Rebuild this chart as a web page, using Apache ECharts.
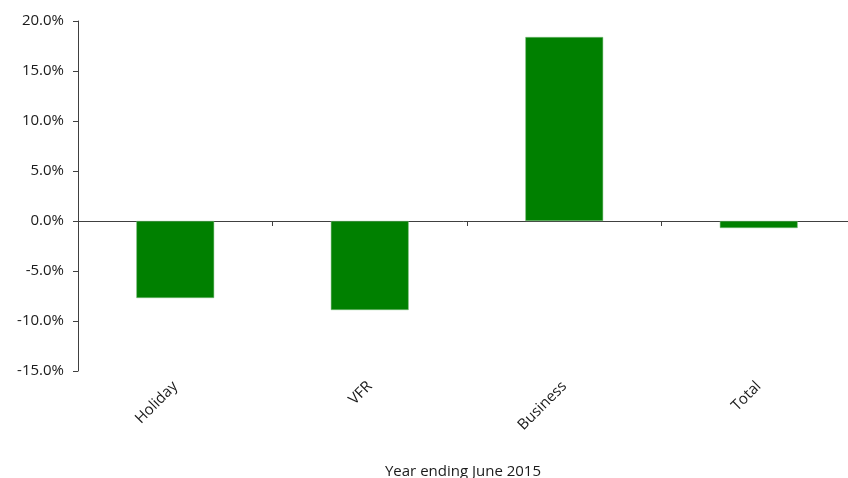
<!DOCTYPE html>
<html>
<head>
<meta charset="utf-8">
<script src="https://cdn.jsdelivr.net/npm/echarts@6/dist/echarts.min.js"></script>
<style>
  html, body { margin: 0; padding: 0; background: #fff; }
  #chart { width: 848px; height: 478px; }
</style>
</head>
<body>
<div id="chart"></div>
<script>
// data
const categories = ["Holiday", "VFR", "Business", "Total"];
const changes = [-7.7, -8.9, 18.4, -0.7];
const yTicks = { min: -15, max: 20, step: 5 };

const font = "Open Sans";
const chart = echarts.init(document.getElementById("chart"));

const option = {
  animation: false,
  textStyle: { fontFamily: font },
  grid: { left: 78, right: -8, top: 21, bottom: 107, containLabel: false, outerBoundsMode: "none" },
  xAxis: [
    {
      // axis line sitting on zero, ticks between categories
      type: "category",
      data: categories,
      axisLine: { onZero: true, lineStyle: { color: "#404040", width: 1 } },
      axisTick: { show: true, inside: false, length: 5, lineStyle: { color: "#404040" } },
      axisLabel: { show: false }
    },
    {
      // labels along the bottom of the plot
      type: "category",
      data: categories,
      position: "bottom",
      axisLine: { show: false, onZero: false },
      axisTick: { show: false },
      axisLabel: {
        rotate: 45,
        margin: 13,
        color: "#1a1a1a",
        fontSize: 15,
        fontFamily: font
      },
      name: "Year ending June 2015",
      nameLocation: "middle",
      nameGap: 93,
      nameTextStyle: { color: "#1a1a1a", fontSize: 15, fontFamily: font, padding: [0, 8, 0, 0] }
    }
  ],
  yAxis: {
    type: "value",
    min: yTicks.min,
    max: yTicks.max,
    interval: yTicks.step,
    axisLine: { show: true, lineStyle: { color: "#404040" } },
    axisTick: { show: true, length: 5, lineStyle: { color: "#404040" } },
    splitLine: { show: false },
    axisLabel: {
      color: "#1a1a1a",
      fontSize: 15,
      fontFamily: font,
      margin: 14,
      formatter: v => v.toFixed(1) + "%"
    }
  },
  series: [
    {
      type: "bar",
      data: changes,
      xAxisIndex: 0,
      barWidth: "40%",
      itemStyle: { color: "#008000", borderColor: "#7fbf7f", borderWidth: 0.5 }
    }
  ]
};

chart.setOption(option);
</script>
</body>
</html>
